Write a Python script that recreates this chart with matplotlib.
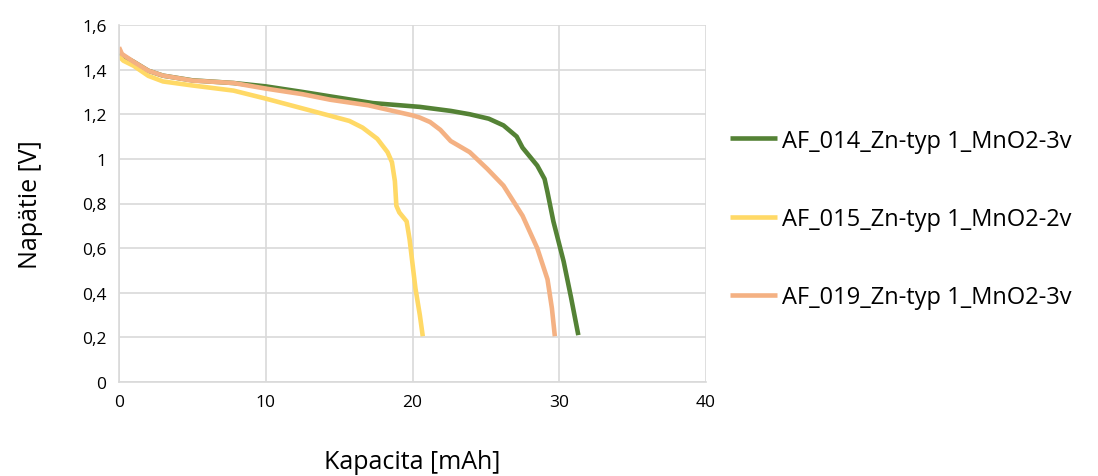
import matplotlib.pyplot as plt
from matplotlib.ticker import FuncFormatter, MultipleLocator

plt.rcParams['font.family'] = ['Open Sans', 'DejaVu Sans']

# AF_014
cap_014 = [0, 0.3, 1, 2, 3, 5, 7.8, 10, 12.5, 14.4, 17.3, 20.5, 22.6, 23.9, 25.2, 26.2,
           27.1, 27.5, 28.0, 28.5, 29.0, 29.2, 29.6, 30.3, 30.8, 31.3]
u_014 = [1.48, 1.46, 1.435, 1.395, 1.373, 1.352, 1.34, 1.325, 1.30, 1.28, 1.25, 1.233, 1.215,
         1.20, 1.18, 1.15, 1.10, 1.05, 1.01, 0.97, 0.91, 0.85, 0.72, 0.54, 0.38, 0.21]
# AF_015
cap_015 = [0, 0.3, 1, 2, 3, 5, 7.8, 10, 12, 14.4, 15.7, 16.6, 17.6, 18.3, 18.6, 18.8, 18.9,
           19.1, 19.6, 19.8, 20.2, 20.5, 20.7]
u_015 = [1.46, 1.44, 1.417, 1.372, 1.347, 1.329, 1.306, 1.27, 1.235, 1.193, 1.17, 1.14, 1.09,
         1.03, 0.985, 0.90, 0.79, 0.76, 0.72, 0.64, 0.42, 0.30, 0.205]
# AF_019
cap_019 = [0, 0.2, 1, 2, 3, 5, 7.8, 10, 12.5, 14.4, 17, 20.0, 20.5, 21.2, 21.9, 22.6, 23.9,
           25.1, 26.2, 27.5, 28.5, 29.2, 29.5, 29.7]
u_019 = [1.50, 1.47, 1.435, 1.395, 1.373, 1.351, 1.34, 1.315, 1.29, 1.265, 1.24, 1.195, 1.185,
         1.165, 1.13, 1.08, 1.03, 0.955, 0.88, 0.745, 0.60, 0.46, 0.33, 0.205]

labels = ['AF_014_Zn-typ 1_MnO2-3v', 'AF_015_Zn-typ 1_MnO2-2v', 'AF_019_Zn-typ 1_MnO2-3v']
colors = ['#548235', '#FFD966', '#F4B183']

fig = plt.figure(figsize=(10.98, 4.77), dpi=100)
ax = fig.add_axes([119 / 1098, 1 - 383 / 477, (706 - 119) / 1098, (383 - 26) / 477])

for x, y, c, lab in zip([cap_014, cap_015, cap_019], [u_014, u_015, u_019], colors, labels):
    ax.plot(x, y, color=c, lw=3.3, label=lab, solid_capstyle='butt')

ax.set_xlim(0, 40)
ax.set_ylim(0, 1.6)
ax.xaxis.set_major_locator(MultipleLocator(10))
ax.yaxis.set_major_locator(MultipleLocator(0.2))
ax.yaxis.set_major_formatter(FuncFormatter(lambda v, p: ('%g' % round(v, 1)).replace('.', ',')))
ax.grid(True, color='#d9d9d9', lw=1.2)
ax.set_axisbelow(True)
ax.tick_params(length=0, labelsize=12.5, pad=9)
for s in ['top', 'right']:
    ax.spines[s].set_visible(False)
for s in ['left', 'bottom']:
    ax.spines[s].set_color('#d9d9d9')
    ax.spines[s].set_linewidth(1.2)

ax.set_xlabel('Kapacita [mAh]', fontsize=18, labelpad=28)
ax.set_ylabel('Napätie [V]', fontsize=18, labelpad=28)

fig.legend(loc='center left', bbox_to_anchor=(730 / 1098, 1 - 220 / 477), frameon=False,
           fontsize=17, labelspacing=2.3, handlelength=2.0, handletextpad=0.2,
           borderpad=0, borderaxespad=0)

fig.savefig('out.png', dpi=100)
